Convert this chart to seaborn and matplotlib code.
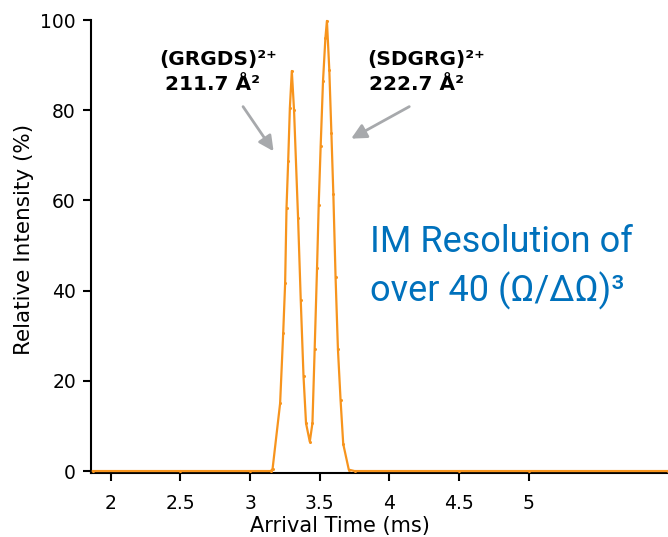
import numpy as np
import pandas as pd
import matplotlib
matplotlib.use("Agg")
import matplotlib.pyplot as plt
import seaborn as sns

# arrival time (ms) and relative intensity (%)
arrival_time = [1.87, 2.50, 3.00, 3.150, 3.162, 3.216, 3.238, 3.252, 3.262, 3.274, 3.286,
                3.300, 3.316, 3.345, 3.364, 3.384, 3.402, 3.429, 3.448, 3.464,
                3.481, 3.493, 3.507, 3.524, 3.541, 3.552, 3.569, 3.584, 3.598,
                3.614, 3.631, 3.650, 3.669, 3.709, 3.75, 4.5, 5.0, 6.0]
intensity = [0, 0, 0, 0, 0.5, 15, 30.5, 41.6, 58.4, 68.8, 80.5,
             88.7, 80, 56, 38, 21, 10.6, 6.5, 10.6, 27,
             45, 59, 72, 86.5, 96, 99.8, 89, 75, 61.5,
             43, 27, 15.7, 6, 0.3, 0, 0, 0, 0]

x_ticks = [2, 2.5, 3, 3.5, 4, 4.5, 5]
x_tick_labels = ["2", "2.5", "3", "3.5", "4", "4.5", "5"]
y_ticks = [0, 20, 40, 60, 80, 100]

sns.set_style("white")
plt.rcParams['font.family'] = ['DejaVu Sans']
plt.rcParams['text.color'] = 'black'
plt.rcParams['axes.labelcolor'] = 'black'
plt.rcParams['xtick.color'] = 'black'
plt.rcParams['ytick.color'] = 'black'

df = pd.DataFrame({"t": arrival_time, "i": intensity})

fig = plt.figure(figsize=(6.68, 5.37), dpi=100)
ax = fig.add_axes([0.1365, 0.1199, 0.8635, 0.8428])

sns.lineplot(data=df, x="t", y="i", ax=ax, color="#F7941D", linewidth=1.6,
             marker="o", markersize=2.2, markeredgewidth=0, zorder=3, clip_on=False)

ax.set_xlim(1.86, 6.0)
ax.set_ylim(-0.35, 100)
ax.set_xticks(x_ticks)
ax.set_xticklabels(x_tick_labels)
ax.set_yticks(y_ticks)

for s in ["top", "right"]:
    ax.spines[s].set_visible(False)
for s in ["left", "bottom"]:
    ax.spines[s].set_color("black")
    ax.spines[s].set_linewidth(1.5)

ax.tick_params(axis="x", bottom=True, direction="out", length=5.5, width=1.5, pad=10, labelsize=13.5)
ax.tick_params(axis="y", left=True, direction="out", length=6, width=1.5, pad=5, labelsize=13.5)
ax.set_xlabel("Arrival Time (ms)", fontsize=15)
ax.set_ylabel("Relative Intensity (%)", fontsize=15.5)
ax.xaxis.set_label_coords(0.4315, -0.095)
ax.yaxis.set_label_coords(-0.10, 0.515)

# peak labels
bold = dict(fontsize=14.5, fontweight="bold", ha="left", va="center")
ax.text(2.35, 91.2, "(GRGDS)²⁺", **bold)
ax.text(2.393, 85.6, "211.7 Å²", **bold)
ax.text(3.84, 91.2, "(SDGRG)²⁺", **bold)
ax.text(3.857, 85.6, "222.7 Å²", **bold)

arrow_style = dict(arrowstyle="-|>,head_length=0.9,head_width=0.45", color="#A7A9AC",
                   lw=2, shrinkA=0, shrinkB=0)
ax.annotate("", xy=(3.169, 70.9), xytext=(2.95, 80.8), arrowprops=arrow_style)
ax.annotate("", xy=(3.726, 73.7), xytext=(4.143, 80.8), arrowprops=arrow_style)

# resolution callout
callout = dict(fontsize=26, color="#0071BC", ha="left", va="center",
               family=["Roboto", "DejaVu Sans"])
ax.text(3.864, 50.7, "IM Resolution of", **callout)
ax.text(3.864, 40.0, "over 40 (Ω/ΔΩ)³", **callout)

fig.savefig("out.png", dpi=100)
